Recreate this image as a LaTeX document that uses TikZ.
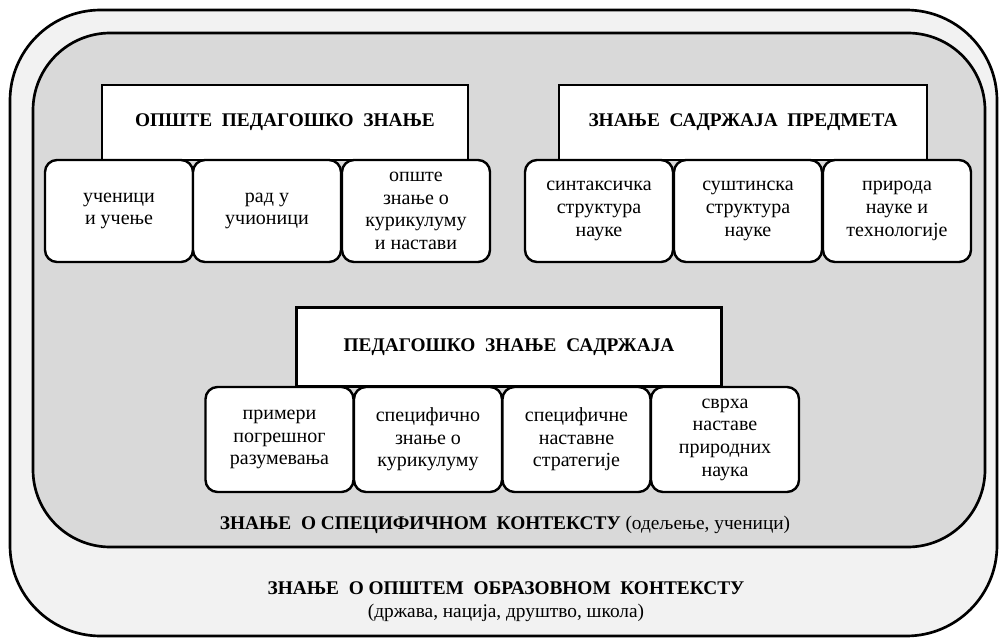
\documentclass[tikz,border=0pt]{standalone}
\usepackage{fontspec}
\setmainfont{Liberation Serif}
\usepackage{xcolor}
\usepackage{tikz}

\begin{document}
\begin{tikzpicture}[x=0.75pt, y=-0.75pt,
    head/.style={draw, rectangle, fill=white, line width=1.8pt, inner sep=0pt, font=\fontsize{14.5}{17}\selectfont\bfseries},
    part/.style={draw, rectangle, rounded corners=9pt, fill=white, line width=1.8pt, inner sep=0pt,
        minimum width=111pt, align=center, font=\fontsize{15}{17}\selectfont},
    ctx/.style={align=center, font=\fontsize{14.5}{17}\selectfont}]
        \useasboundingbox (0,0) rectangle (999,638);

        % Contexts
        \draw[line width=2pt, fill=gray!10, rounded corners=68pt] (10,10) rectangle (997,636);
        \draw[line width=2pt, fill=gray!30, rounded corners=58pt] (33,33) rectangle (985,547);

        % General pedagogical knowledge
        \node[head, minimum width=274.5pt, minimum height=56pt] (general) at (285,122.5) {ОПШТЕ\ \ ПЕДАГОШКО\ \ ЗНАЊЕ};
        \node[part, minimum height=76.5pt] (learners) at (119,211) {ученици\\и учење};
        \node[part, minimum height=76.5pt] (classroom) at (267,211) {рад у\\учионици};
        \node[part, minimum height=76.5pt] (curriculum) at (416,211) {опште\\знање о\\курикулуму\\и настави};

        % Subject matter knowledge
        \node[head, minimum width=276pt, minimum height=56pt] (subject) at (743,122.5) {ЗНАЊЕ\ \ САДРЖАЈА\ \ ПРЕДМЕТА};
        \node[part, minimum height=76.5pt] (syntactic) at (599,211) {синтаксичка\\структура\\науке};
        \node[part, minimum height=76.5pt] (substantive) at (748,211) {суштинска\\структура\\науке};
        \node[part, minimum height=76.5pt] (nature) at (897,211) {природа\\науке и\\технологије};

        % Pedagogical content knowledge
        \node[head, minimum width=318.75pt, minimum height=59pt] (pck) at (509,347) {ПЕДАГОШКО\ \ ЗНАЊЕ\ \ САДРЖАЈА};
        \node[part, minimum height=78.75pt] (misconceptions) at (279.5,439.5) {примери\\погрешног\\разумевања};
        \node[part, minimum height=78.75pt] (specific) at (428,439.5) {специфично\\знање о\\курикулуму};
        \node[part, minimum height=78.75pt] (strategies) at (576.5,439.5) {специфичне\\наставне\\стратегије};
        \node[part, minimum height=78.75pt] (purposes) at (725,439.5) {сврха\\наставе\\природних\\наука};

        % Context labels
        \node[ctx] (local) at (505,525) {\textbf{ЗНАЊЕ\ \ О\ СПЕЦИФИЧНОМ\ \ КОНТЕКСТУ} (одељење, ученици)};
        \node[ctx] (wider) at (506,602) {\textbf{ЗНАЊЕ\ \ О ОПШТЕМ\ \ ОБРАЗОВНОМ\ \ КОНТЕКСТУ}\\(држава, нација, друштво, школа)};
    \end{tikzpicture}
\end{document}
